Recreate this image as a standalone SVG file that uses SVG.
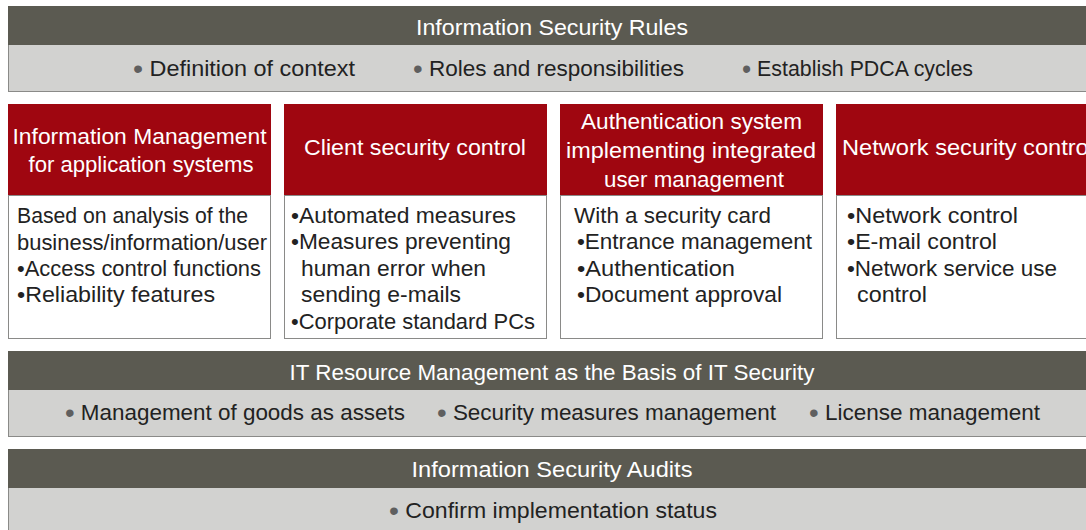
<svg xmlns="http://www.w3.org/2000/svg" width="1086" height="530" viewBox="0 0 1086 530">
<style>
.dark{fill:#5b5a51}
.light{fill:#d2d2d0;stroke:#8a8a88;stroke-width:1}
.red{fill:#9f0610}
.body{fill:#ffffff;stroke:#8a8a88;stroke-width:1}
text{font-family:"Liberation Sans",Arial,sans-serif}
.t{fill:#ffffff;font-size:22px}
.b{fill:#222222;font-size:22px}
.h{fill:#ffffff;font-size:22px;text-anchor:middle}
.d{fill:#5f5f5f;font-size:27px}
</style>
<rect width="1086" height="530" fill="#ffffff"/>
<g id="rules">
<rect class="light" x="8.5" y="44.5" width="1090" height="47"/>
<rect class="dark" x="8" y="6" width="1090" height="39"/>
<text class="t" x="552" y="35" text-anchor="middle" textLength="272" lengthAdjust="spacingAndGlyphs">Information Security Rules</text>
<text class="b" x="133" y="76" textLength="222" lengthAdjust="spacingAndGlyphs"><tspan class="d" dy="1.5">•</tspan><tspan dy="-1.5"> Definition of context</tspan></text>
<text class="b" x="413" y="76" textLength="271" lengthAdjust="spacingAndGlyphs"><tspan class="d" dy="1.5">•</tspan><tspan dy="-1.5"> Roles and responsibilities</tspan></text>
<text class="b" x="742" y="76" textLength="231" lengthAdjust="spacingAndGlyphs"><tspan class="d" dy="1.5">•</tspan><tspan dy="-1.5"> Establish PDCA cycles</tspan></text>
</g>
<g id="app-info">
<rect class="body" x="8.5" y="195.5" width="262" height="143"/>
<rect class="red" x="8" y="104" width="263" height="91"/>
<text class="h" x="139.5" y="144" textLength="254" lengthAdjust="spacingAndGlyphs">Information Management</text>
<text class="h" x="141" y="172" textLength="225" lengthAdjust="spacingAndGlyphs">for application systems</text>
<text class="b" x="17" y="223" textLength="231" lengthAdjust="spacingAndGlyphs">Based on analysis of the</text>
<text class="b" x="17" y="250" textLength="250" lengthAdjust="spacingAndGlyphs">business/information/user</text>
<text class="b" x="17" y="276" textLength="244" lengthAdjust="spacingAndGlyphs">•Access control functions</text>
<text class="b" x="17" y="302" textLength="198" lengthAdjust="spacingAndGlyphs">•Reliability features</text>
</g>
<g id="client">
<rect class="body" x="284.5" y="195.5" width="262" height="143"/>
<rect class="red" x="284" y="104" width="263" height="91"/>
<text class="h" x="415" y="155" textLength="222" lengthAdjust="spacingAndGlyphs">Client security control</text>
<text class="b" x="291" y="223" textLength="225" lengthAdjust="spacingAndGlyphs">•Automated measures</text>
<text class="b" x="291" y="249" textLength="220" lengthAdjust="spacingAndGlyphs">•Measures preventing</text>
<text class="b" x="301" y="276" textLength="185" lengthAdjust="spacingAndGlyphs">human error when</text>
<text class="b" x="301" y="302" textLength="160" lengthAdjust="spacingAndGlyphs">sending e-mails</text>
<text class="b" x="291" y="329" textLength="244" lengthAdjust="spacingAndGlyphs">•Corporate standard PCs</text>
</g>
<g id="auth">
<rect class="body" x="560.5" y="195.5" width="262" height="143"/>
<rect class="red" x="560" y="104" width="263" height="91"/>
<text class="h" x="691.5" y="129" textLength="221" lengthAdjust="spacingAndGlyphs">Authentication system</text>
<text class="h" x="691" y="158" textLength="250" lengthAdjust="spacingAndGlyphs">implementing integrated</text>
<text class="h" x="694" y="187" textLength="180" lengthAdjust="spacingAndGlyphs">user management</text>
<text class="b" x="574" y="223" textLength="197" lengthAdjust="spacingAndGlyphs">With a security card</text>
<text class="b" x="577" y="249" textLength="235" lengthAdjust="spacingAndGlyphs">•Entrance management</text>
<text class="b" x="577" y="276" textLength="158" lengthAdjust="spacingAndGlyphs">•Authentication</text>
<text class="b" x="577" y="302" textLength="205" lengthAdjust="spacingAndGlyphs">•Document approval</text>
</g>
<g id="network">
<rect class="body" x="836.5" y="195.5" width="262" height="143"/>
<rect class="red" x="836" y="104" width="263" height="91"/>
<text class="t" x="842" y="155" textLength="252" lengthAdjust="spacingAndGlyphs">Network security control</text>
<text class="b" x="847" y="223" textLength="171" lengthAdjust="spacingAndGlyphs">•Network control</text>
<text class="b" x="847" y="249" textLength="150" lengthAdjust="spacingAndGlyphs">•E-mail control</text>
<text class="b" x="847" y="276" textLength="210" lengthAdjust="spacingAndGlyphs">•Network service use</text>
<text class="b" x="857" y="302" textLength="70" lengthAdjust="spacingAndGlyphs">control</text>
</g>
<g id="it-resource">
<rect class="light" x="8.5" y="389.5" width="1090" height="47"/>
<rect class="dark" x="8" y="351" width="1090" height="39"/>
<text class="t" x="552" y="380" text-anchor="middle" textLength="525" lengthAdjust="spacingAndGlyphs">IT Resource Management as the Basis of IT Security</text>
<text class="b" x="65" y="420" textLength="340" lengthAdjust="spacingAndGlyphs"><tspan class="d" dy="1.5">•</tspan><tspan dy="-1.5"> Management of goods as assets</tspan></text>
<text class="b" x="437" y="420" textLength="339" lengthAdjust="spacingAndGlyphs"><tspan class="d" dy="1.5">•</tspan><tspan dy="-1.5"> Security measures management</tspan></text>
<text class="b" x="809" y="420" textLength="231" lengthAdjust="spacingAndGlyphs"><tspan class="d" dy="1.5">•</tspan><tspan dy="-1.5"> License management</tspan></text>
</g>
<g id="audits">
<rect class="light" x="8.5" y="487.5" width="1090" height="47"/>
<rect class="dark" x="8" y="449" width="1090" height="39"/>
<text class="t" x="552" y="477" text-anchor="middle" textLength="281" lengthAdjust="spacingAndGlyphs">Information Security Audits</text>
<text class="b" x="389" y="518" textLength="328" lengthAdjust="spacingAndGlyphs"><tspan class="d" dy="1.5">•</tspan><tspan dy="-1.5"> Confirm implementation status</tspan></text>
</g>
<g id="connectors"></g>
</svg>
